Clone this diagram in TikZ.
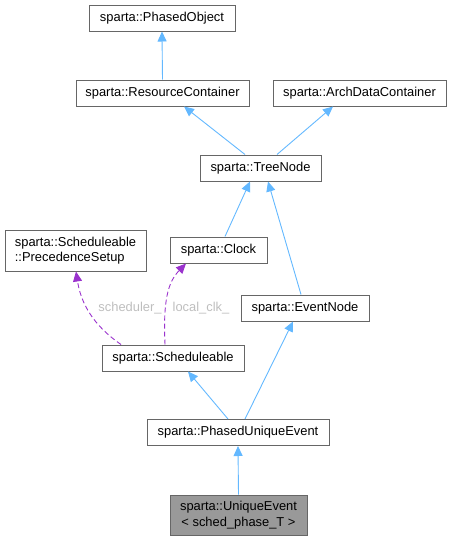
\documentclass[tikz,border=0pt]{standalone}
\usepackage{fontspec}
\setmainfont{Liberation Sans}
\usetikzlibrary{arrows.meta,calc}
\definecolor{edgeblue}{RGB}{99,184,255}
\definecolor{usepurple}{RGB}{154,50,205}
\definecolor{boxgray}{RGB}{102,102,102}
\definecolor{labelgray}{RGB}{190,190,190}
\tikzstyle{cls} = [draw=boxgray, line width=1pt, fill=white, minimum height=26pt, inner sep=2pt, font=\fontsize{12.9}{15.5}\selectfont]
\tikzstyle{inherit} = [draw=edgeblue, line width=0.9pt, -{Triangle[length=10pt,width=9pt]}]
\tikzstyle{usage} = [draw=usepurple, line width=0.9pt, dash pattern=on 5pt off 3pt, -{Triangle[length=10pt,width=9pt]}]
\tikzstyle{role} = [text=labelgray, font=\fontsize{12.9}{15.5}\selectfont]

\begin{document}
\begin{tikzpicture}[x=1pt,y=-1pt]
    \useasboundingbox (0,0) rectangle (452,541);
    % classes
    \node [cls, minimum width=146pt] (po) at (162,18) {sparta::PhasedObject};
    \node [cls, minimum width=173pt] (rc) at (162.5,93) {sparta::ResourceContainer};
    \node [cls, minimum width=173pt] (adc) at (359.5,93) {sparta::ArchDataContainer};
    \node [cls, minimum width=121pt] (tn) at (260.5,168) {sparta::TreeNode};
    \node [cls, minimum width=141pt, minimum height=41pt, align=left] (ps) at (75.5,250.5) {sparta::Scheduleable\\::PrecedenceSetup};
    \node [cls, minimum width=97pt] (clk) at (218.5,250) {sparta::Clock};
    \node [cls, minimum width=128pt] (en) at (305,308) {sparta::EventNode};
    \node [cls, minimum width=142pt] (sch) at (173,358) {sparta::Scheduleable};
    \node [cls, minimum width=182pt] (pue) at (238,432.5) {sparta::PhasedUniqueEvent};
    \node [cls, minimum width=137pt, minimum height=40pt, fill={rgb,255:red,153;green,153;blue,153}, align=center] (ue) at (238.5,515) {sparta::UniqueEvent\\< sched\_phase\_T >};
    % inheritance
    \draw [inherit] (rc.north) -- (po.south);
    \draw [inherit] ([xshift=-15.5pt]tn.north) -- ([xshift=21.5pt]rc.south);
    \draw [inherit] ([xshift=16.5pt]tn.north) -- ([xshift=-26.5pt]adc.south);
    \draw [inherit] ([xshift=6.5pt]clk.north) -- ([xshift=-10.5pt]tn.south);
    \draw [inherit] ([xshift=-4pt]en.north) -- ([xshift=7.5pt]tn.south);
    \draw [inherit] ([xshift=-10pt]pue.north) -- ([xshift=15pt]sch.south);
    \draw [inherit] ([xshift=7pt]pue.north) -- ([xshift=-12pt]en.south);
    \draw [inherit] (ue.north) -- (pue.south);
    % members
    \draw [usage] ([xshift=-52pt]sch.north) .. controls (100,330) and (82,310) .. ([xshift=0.5pt]ps.south);
    \draw [usage] ([xshift=-8pt]sch.north) .. controls (163,300) and (168,282) .. ([xshift=-32.5pt]clk.south);
    \node [role] (lsched) at (130,308) {scheduler\_};
    \node [role] (lclk) at (201,308) {local\_clk\_};
\end{tikzpicture}
\end{document}
